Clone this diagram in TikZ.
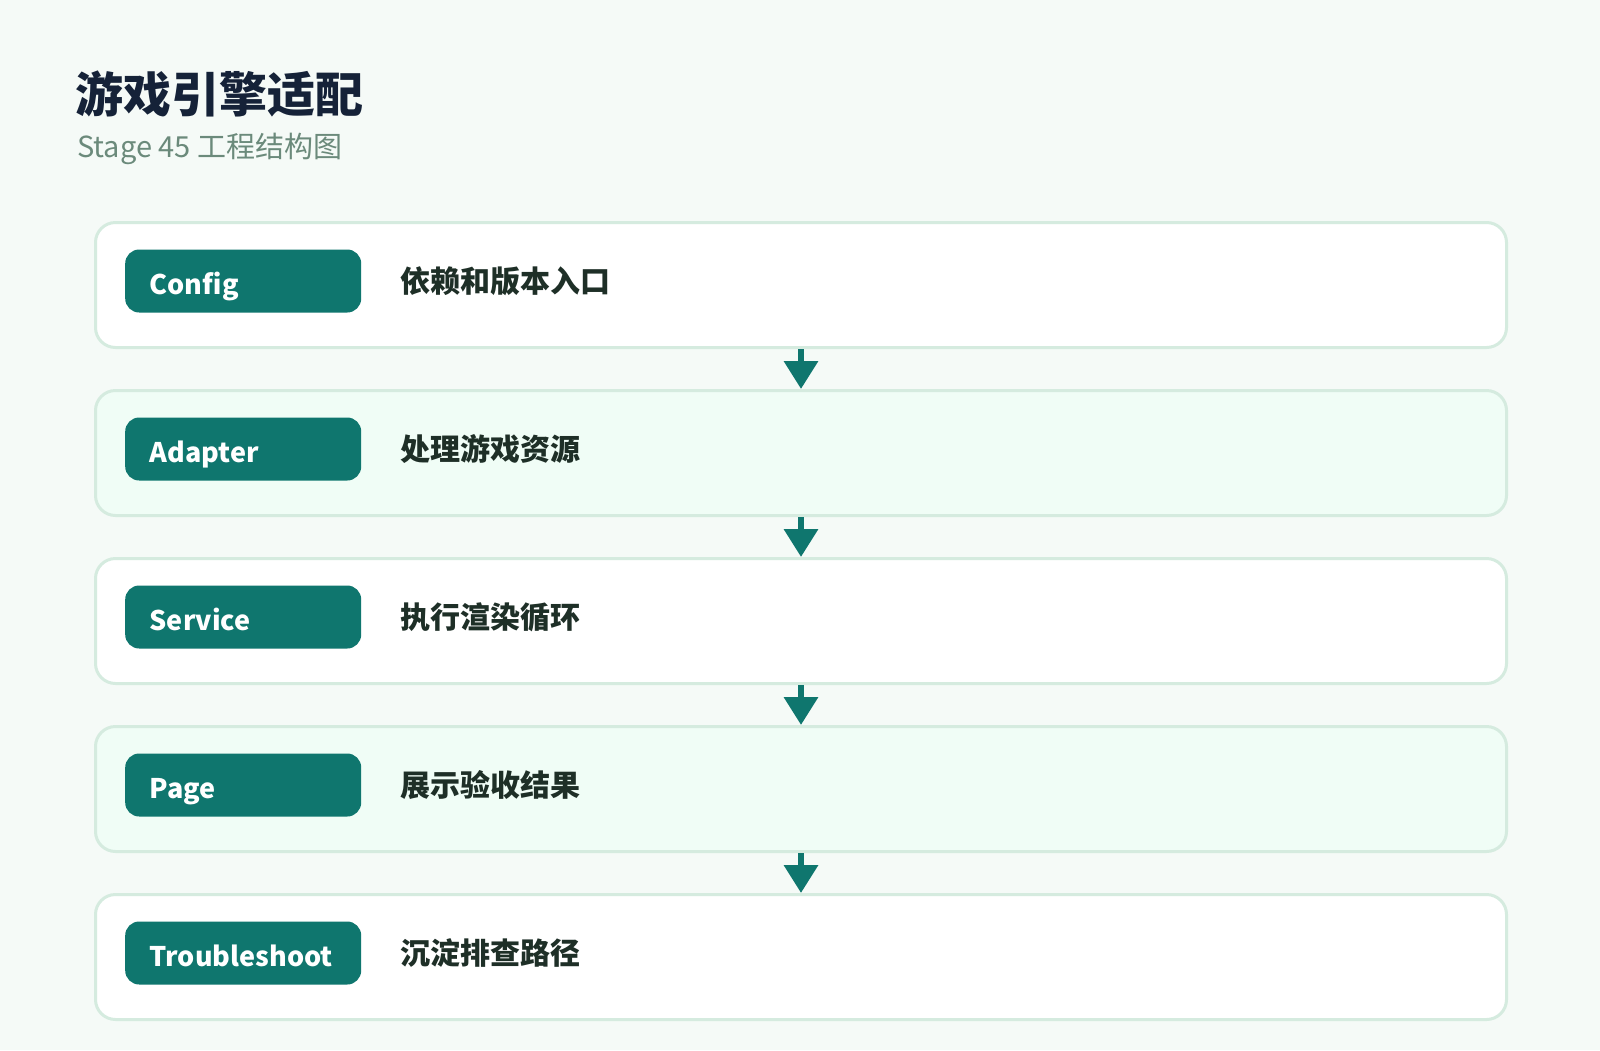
\documentclass[tikz,border=0pt]{standalone}
\usepackage{fontspec}
\setmainfont{Noto Sans CJK SC}
\usetikzlibrary{arrows.meta,positioning}
\definecolor{pagebg}{HTML}{F5FAF7}
\definecolor{rowline}{HTML}{D5EBDF}
\definecolor{rowmint}{HTML}{F0FDF6}
\definecolor{stageteal}{HTML}{0F766E}
\definecolor{titleink}{HTML}{152238}
\definecolor{subink}{HTML}{6B8A7B}
\definecolor{descink}{HTML}{1E2F27}

\begin{document}
\begin{tikzpicture}[x=1pt,y=-1pt,
    row/.style={draw=rowline,line width=3pt,rounded corners=20pt,minimum width=1411pt,minimum height=125pt},
    tag/.style={fill=stageteal,rounded corners=14pt,minimum height=63pt,text width=187pt,inner xsep=24.5pt,align=left,text height=30pt,text depth=4pt,text=white,font=\fontsize{27}{32}\selectfont\bfseries},
    desc/.style={inner sep=0pt,text=descink,font=\fontsize{30}{35}\selectfont\bfseries},
    flow/.style={draw=stageteal,line width=6.5pt,-{Triangle[width=33pt,length=28pt]}}]
    \fill[pagebg] (0,0) rectangle (1600,1050);
    \useasboundingbox (0,0) rectangle (1600,1050);

    \node[anchor=west,inner sep=0pt,text=titleink,font=\fontsize{48}{54}\selectfont\bfseries] (title) at (75,94) {游戏引擎适配};
    \node[anchor=west,inner sep=0pt,text=subink,font=\fontsize{29}{34}\selectfont] (subtitle) at (77,149) {Stage 45 工程结构图};

    \node[row,fill=white] (config) at (801,285) {};
    \node[tag,right=31pt of config.west,yshift=4pt] (configtag) {Config};
    \node[desc,right=39pt of configtag.east] (configdesc) {依赖和版本入口};

    \node[row,fill=rowmint] (adapter) at (801,453) {};
    \node[tag,right=31pt of adapter.west,yshift=4pt] (adaptertag) {Adapter};
    \node[desc,right=39pt of adaptertag.east] (adapterdesc) {处理游戏资源};

    \node[row,fill=white] (service) at (801,621) {};
    \node[tag,right=31pt of service.west,yshift=4pt] (servicetag) {Service};
    \node[desc,right=39pt of servicetag.east] (servicedesc) {执行渲染循环};

    \node[row,fill=rowmint] (page) at (801,789) {};
    \node[tag,right=31pt of page.west,yshift=4pt] (pagetag) {Page};
    \node[desc,right=39pt of pagetag.east] (pagedesc) {展示验收结果};

    \node[row,fill=white] (trouble) at (801,957) {};
    \node[tag,right=31pt of trouble.west,yshift=4pt] (troubletag) {Troubleshoot};
    \node[desc,right=39pt of troubletag.east] (troubledesc) {沉淀排查路径};

    \draw[flow] (config.south) -- (adapter.north);
    \draw[flow] (adapter.south) -- (service.north);
    \draw[flow] (service.south) -- (page.north);
    \draw[flow] (page.south) -- (trouble.north);
\end{tikzpicture}
\end{document}
